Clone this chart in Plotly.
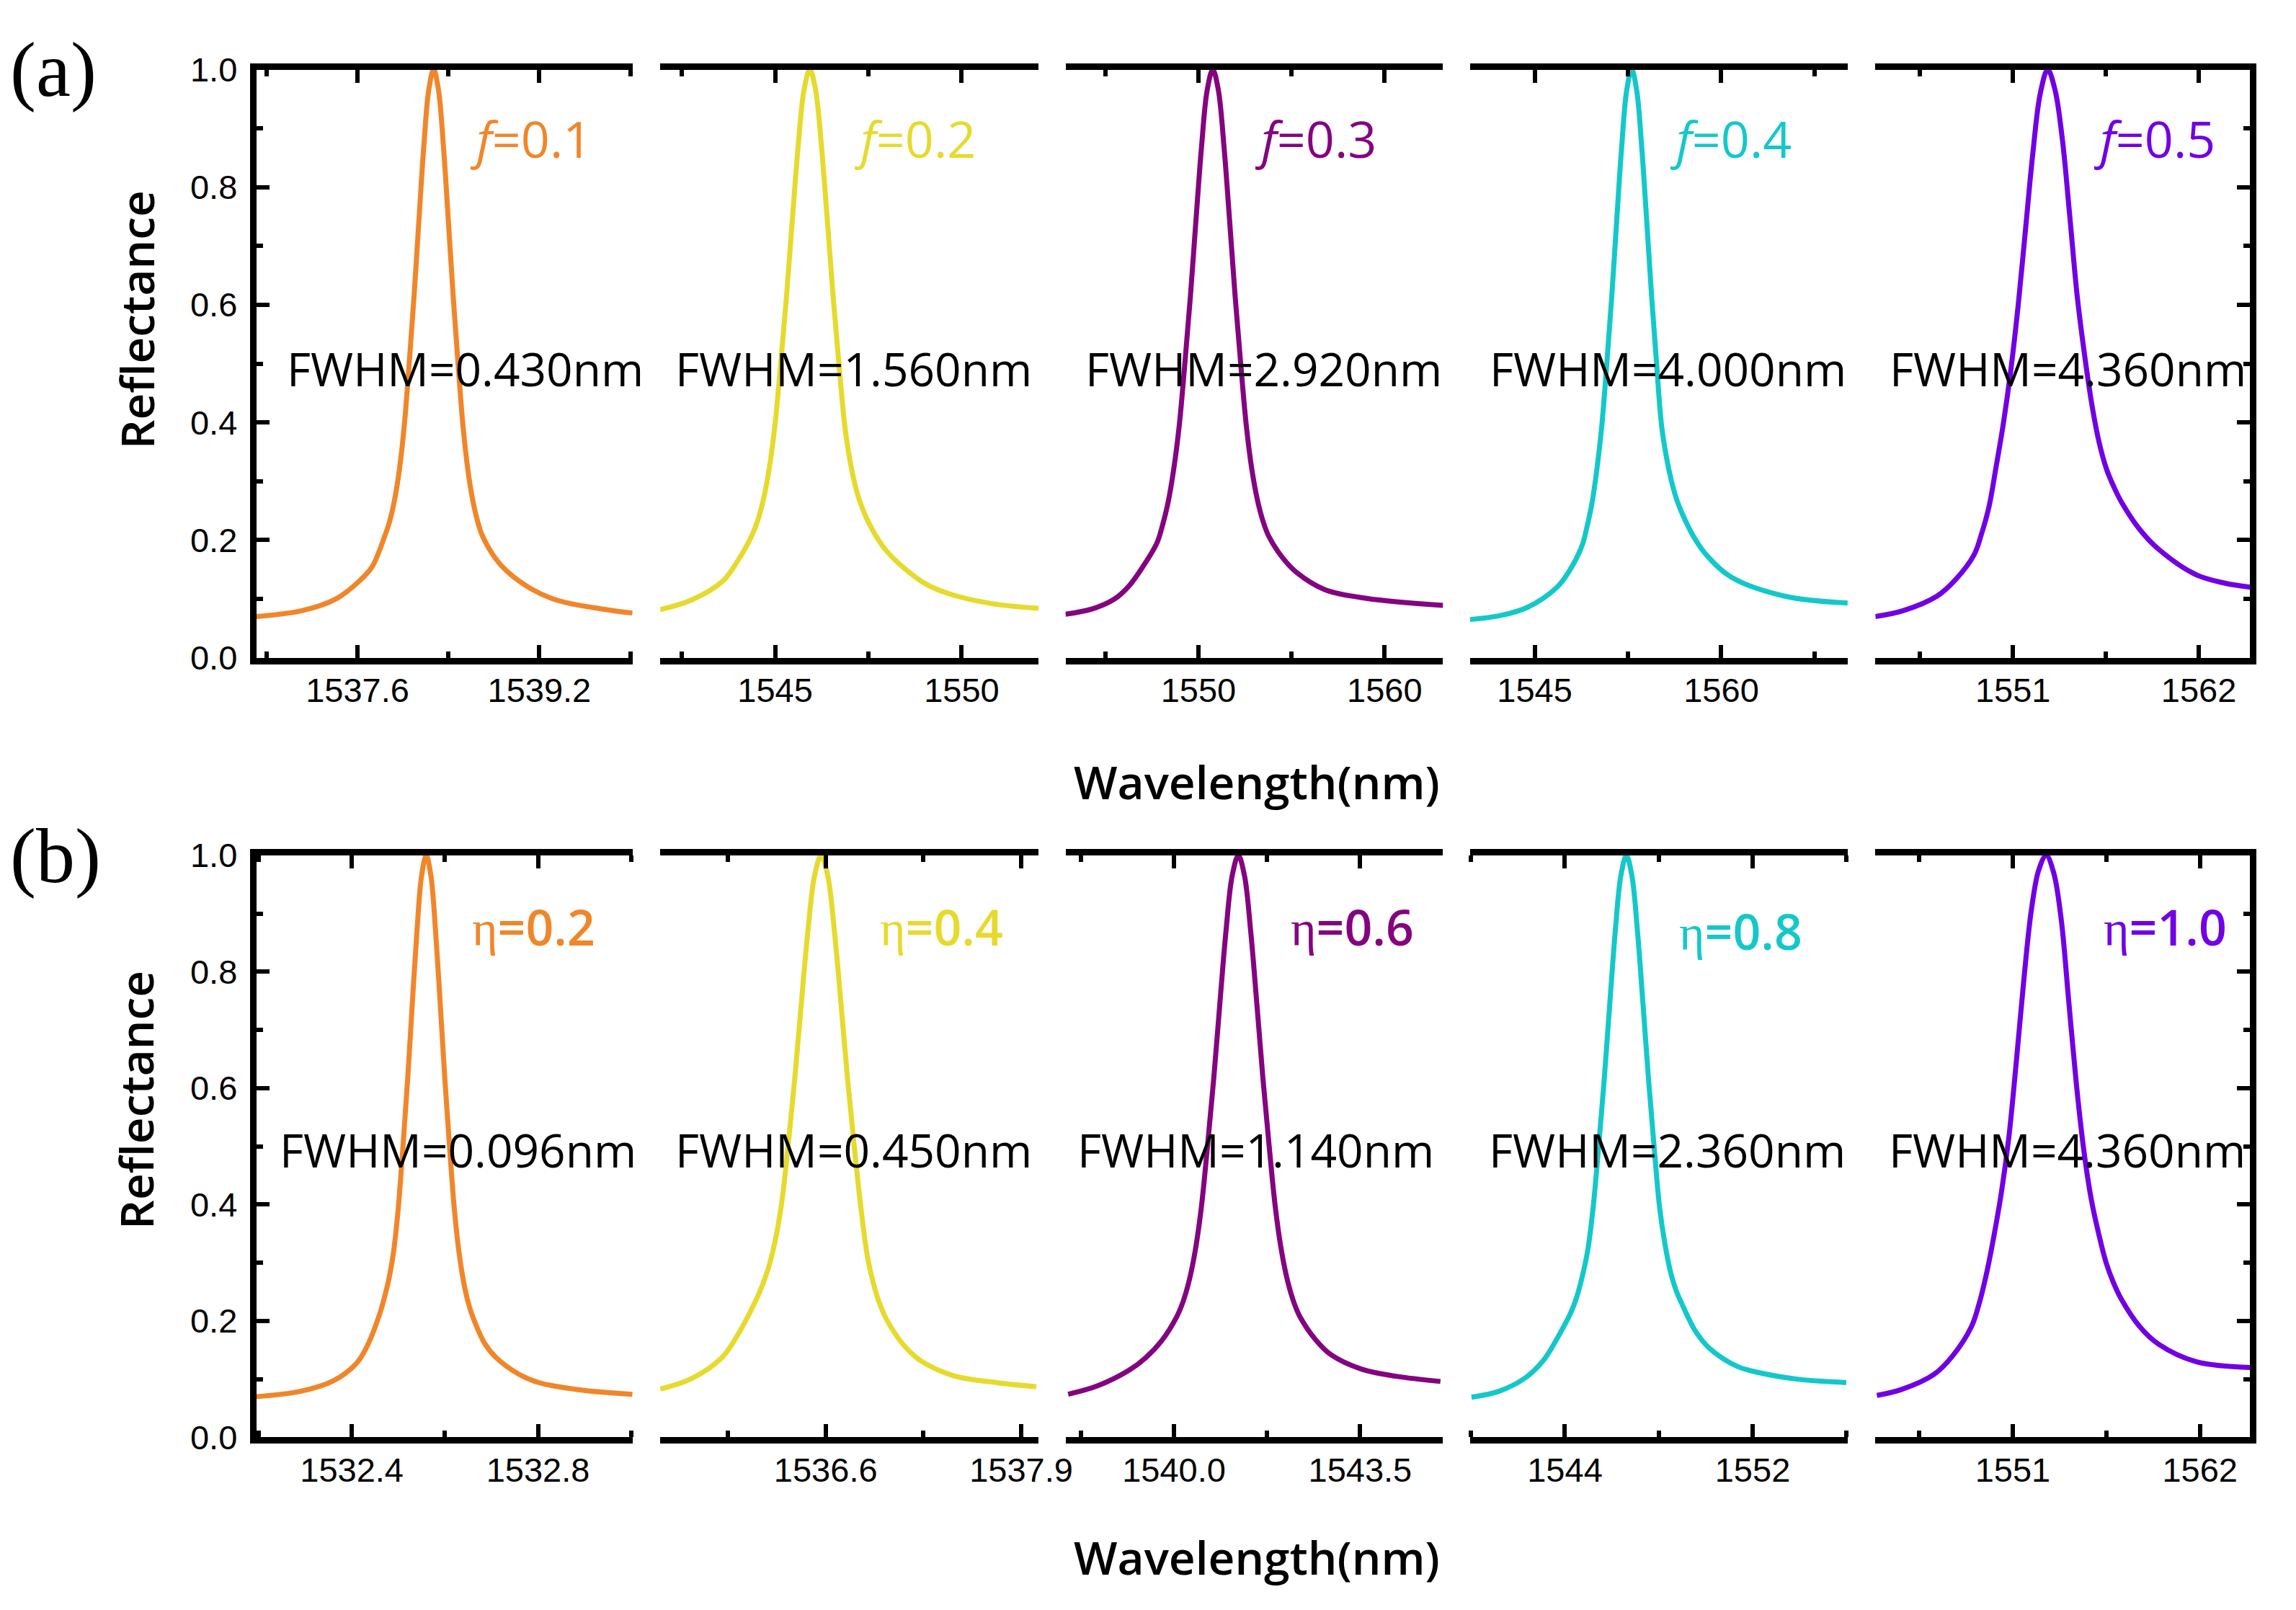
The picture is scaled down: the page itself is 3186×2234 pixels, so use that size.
import plotly.graph_objects as go

# ---- data (wavelength in nm, reflectance) ----
# (a) filling factor f
wl_f01 = [1536.71, 1537.11, 1537.41, 1537.625, 1537.73,
          1537.840, 1537.883, 1537.926, 1537.969, 1538.012, 1538.055, 1538.098, 1538.141, 1538.184, 1538.227, 1538.270,
          1538.313, 1538.356, 1538.399, 1538.442, 1538.485, 1538.528, 1538.571, 1538.614, 1538.657, 1538.700,
          1538.81, 1538.915, 1539.13, 1539.37, 1539.75, 1540.02]
r_f01 = [0.070, 0.080, 0.100, 0.132, 0.155,
         0.207, 0.232, 0.268, 0.32, 0.395, 0.50, 0.615, 0.745, 0.87, 0.965, 1.0,
         0.965, 0.87, 0.745, 0.615, 0.50, 0.395, 0.32, 0.268, 0.232, 0.207,
         0.170, 0.147, 0.117, 0.097, 0.083, 0.076]

wl_f02 = [1541.92, 1542.75, 1543.59, 1543.98,
          1544.370, 1544.526, 1544.682, 1544.838, 1544.994, 1545.150, 1545.306, 1545.462, 1545.618, 1545.774, 1545.930,
          1546.086, 1546.242, 1546.398, 1546.554, 1546.710, 1546.866, 1547.022, 1547.178, 1547.334, 1547.490,
          1547.88, 1548.27, 1549.05, 1549.70, 1550.81, 1552.06]
r_f02 = [0.082, 0.098, 0.130, 0.163,
         0.207, 0.232, 0.268, 0.32, 0.395, 0.50, 0.615, 0.745, 0.87, 0.965, 1.0,
         0.965, 0.87, 0.745, 0.615, 0.50, 0.395, 0.33, 0.285, 0.255, 0.232,
         0.190, 0.163, 0.125, 0.108, 0.092, 0.084]

wl_f03 = [1542.86, 1544.30, 1545.50, 1546.27, 1547.02,
          1547.77, 1548.07, 1548.37, 1548.67, 1548.97, 1549.27, 1549.57, 1549.87, 1550.17, 1550.47, 1550.77,
          1551.07, 1551.37, 1551.67, 1551.97, 1552.27, 1552.57, 1552.87, 1553.17, 1553.47, 1553.77,
          1554.52, 1555.27, 1556.77, 1559.02, 1563.14]
r_f03 = [0.074, 0.083, 0.100, 0.122, 0.155,
         0.195, 0.225, 0.264, 0.32, 0.395, 0.50, 0.615, 0.745, 0.87, 0.965, 1.0,
         0.965, 0.87, 0.745, 0.615, 0.50, 0.395, 0.32, 0.268, 0.232, 0.207,
         0.170, 0.145, 0.116, 0.101, 0.089]

wl_f04 = [1539.81, 1542.30, 1544.45, 1546.80, 1547.80,
          1548.80, 1549.20, 1549.60, 1550.00, 1550.40, 1550.80, 1551.20, 1551.60, 1552.00, 1552.40, 1552.80,
          1553.20, 1553.60, 1554.00, 1554.40, 1554.80, 1555.20, 1555.60, 1556.00, 1556.40, 1556.80,
          1557.80, 1558.80, 1560.80, 1565.03, 1570.16]
r_f04 = [0.065, 0.072, 0.086, 0.120, 0.148,
         0.190, 0.222, 0.262, 0.32, 0.395, 0.50, 0.615, 0.745, 0.87, 0.965, 1.0,
         0.965, 0.87, 0.745, 0.615, 0.50, 0.395, 0.34, 0.30, 0.27, 0.248,
         0.205, 0.175, 0.137, 0.105, 0.093]

wl_f05 = [1542.86, 1544.50, 1546.52, 1547.61,
          1548.700, 1549.136, 1549.572, 1550.008, 1550.444, 1550.880, 1551.316, 1551.752, 1552.188, 1552.624, 1553.060,
          1553.496, 1553.932, 1554.368, 1554.804, 1555.240, 1555.676, 1556.112, 1556.548, 1556.984, 1557.420,
          1558.51, 1559.60, 1561.78, 1563.51, 1565.04]
r_f05 = [0.070, 0.080, 0.105, 0.133,
         0.175, 0.21, 0.255, 0.325, 0.40, 0.49, 0.60, 0.73, 0.86, 0.96, 1.0,
         0.965, 0.88, 0.75, 0.615, 0.515, 0.43, 0.365, 0.32, 0.29, 0.265,
         0.218, 0.185, 0.142, 0.127, 0.120]

# (b) eta
wl_e02 = [1532.195, 1532.289, 1532.36, 1532.41, 1532.435,
          1532.46, 1532.47, 1532.48, 1532.49, 1532.50, 1532.51, 1532.52, 1532.53, 1532.54, 1532.55, 1532.56,
          1532.57, 1532.58, 1532.59, 1532.60, 1532.61, 1532.62, 1532.63, 1532.64, 1532.65, 1532.66,
          1532.685, 1532.71, 1532.76, 1532.802, 1532.896, 1533.003]
r_e02 = [0.070, 0.079, 0.097, 0.127, 0.160,
         0.212, 0.24, 0.273, 0.32, 0.395, 0.50, 0.615, 0.745, 0.87, 0.965, 1.0,
         0.965, 0.87, 0.745, 0.615, 0.50, 0.395, 0.32, 0.268, 0.232, 0.207,
         0.162, 0.137, 0.108, 0.094, 0.081, 0.074]

wl_e04 = [1535.50, 1535.709, 1535.91, 1536.02,
          1536.130, 1536.174, 1536.218, 1536.262, 1536.306, 1536.350, 1536.394, 1536.438, 1536.482, 1536.526, 1536.570,
          1536.614, 1536.658, 1536.702, 1536.746, 1536.790, 1536.834, 1536.878, 1536.922, 1536.966, 1537.010,
          1537.12, 1537.23, 1537.45, 1537.736, 1538.00]
r_e04 = [0.083, 0.101, 0.137, 0.178,
         0.232, 0.258, 0.29, 0.335, 0.40, 0.50, 0.615, 0.745, 0.87, 0.965, 1.0,
         0.965, 0.87, 0.745, 0.615, 0.50, 0.395, 0.31, 0.26, 0.225, 0.20,
         0.158, 0.132, 0.106, 0.094, 0.087]

wl_e06 = [1538.01, 1538.55, 1539.15, 1539.47, 1539.76,
          1540.050, 1540.166, 1540.282, 1540.398, 1540.514, 1540.630, 1540.746, 1540.862, 1540.978, 1541.094, 1541.210,
          1541.326, 1541.442, 1541.558, 1541.674, 1541.790, 1541.906, 1542.022, 1542.138, 1542.254, 1542.370,
          1542.66, 1542.95, 1543.53, 1544.17, 1545.01]
r_e06 = [0.074, 0.088, 0.115, 0.137, 0.165,
         0.207, 0.232, 0.268, 0.32, 0.395, 0.50, 0.615, 0.745, 0.87, 0.965, 1.0,
         0.965, 0.87, 0.745, 0.615, 0.50, 0.395, 0.32, 0.268, 0.232, 0.207,
         0.168, 0.142, 0.117, 0.105, 0.096]

wl_e08 = [1540.02, 1541.18, 1542.34, 1543.08, 1543.67,
          1544.260, 1544.496, 1544.732, 1544.968, 1545.204, 1545.440, 1545.676, 1545.912, 1546.148, 1546.384, 1546.620,
          1546.856, 1547.092, 1547.328, 1547.564, 1547.800, 1548.036, 1548.272, 1548.508, 1548.744, 1548.980,
          1549.57, 1550.16, 1551.34, 1552.29, 1553.89, 1555.99]
r_e08 = [0.069, 0.079, 0.103, 0.132, 0.170,
         0.215, 0.24, 0.275, 0.32, 0.395, 0.50, 0.615, 0.745, 0.87, 0.965, 1.0,
         0.965, 0.87, 0.745, 0.615, 0.50, 0.395, 0.33, 0.283, 0.252, 0.23,
         0.182, 0.153, 0.122, 0.111, 0.100, 0.094]

wl_e10 = [1543.02, 1544.45, 1546.37, 1547.47,
          1548.57, 1549.01, 1549.45, 1549.89, 1550.33, 1550.77, 1551.21, 1551.65, 1552.09, 1552.53, 1552.97,
          1553.41, 1553.85, 1554.29, 1554.73, 1555.17, 1555.61, 1556.05, 1556.49, 1556.93, 1557.37,
          1558.47, 1559.57, 1561.77, 1564.95]
r_e10 = [0.072, 0.082, 0.108, 0.140,
         0.19, 0.228, 0.28, 0.345, 0.42, 0.515, 0.645, 0.785, 0.905, 0.975, 1.0,
         0.97, 0.89, 0.75, 0.61, 0.495, 0.41, 0.35, 0.30, 0.265, 0.238,
         0.190, 0.160, 0.130, 0.120]

f_labels = ["0.1", "0.2", "0.3", "0.4", "0.5"]
eta_labels = ["0.2", "0.4", "0.6", "0.8", "1.0"]
fwhm_a = ["0.430", "1.560", "2.920", "4.000", "4.360"]
fwhm_b = ["0.096", "0.450", "1.140", "2.360", "4.360"]

colors = ["#F0862A", "#E6DA2E", "#84047F", "#14C8CA", "#7100E4"]

# axis ranges and tick spacing per panel
xr_a = [(1536.71, 1540.02), (1541.92, 1552.06), (1542.86, 1563.14), (1539.81, 1570.16), (1542.86, 1565.04)]
xr_b = [(1532.195, 1533.003), (1535.50, 1538.015), (1537.96, 1545.06), (1539.96, 1556.05), (1542.93, 1564.95)]
tk_a = [(1537.6, 1.6, ".1f"), (1545, 5, "d"), (1550, 10, "d"), (1545, 15, "d"), (1551, 11, "d")]
tk_b = [(1532.4, 0.4, ".1f"), (1536.6, 1.3, ".1f"), (1540.0, 3.5, ".1f"), (1544, 8, "d"), (1551, 11, "d")]

curves_a = [(wl_f01, r_f01), (wl_f02, r_f02), (wl_f03, r_f03), (wl_f04, r_f04), (wl_f05, r_f05)]
curves_b = [(wl_e02, r_e02), (wl_e04, r_e04), (wl_e06, r_e06), (wl_e08, r_e08), (wl_e10, r_e10)]

W, H = 3186, 2234
OFF = 8  # page margin the browser adds around the plot div
cols_px = [(361, 891), (930, 1463), (1501, 2033), (2071, 2603), (2642, 3170)]
rows_px = [(71, 907), (1188, 2015)]

def px(x):
    return (x - OFF) / W

def py(y):
    return 1 - (y - OFF) / H

tick_font = dict(family="Liberation Sans Narrow, Liberation Sans, sans-serif", size=47, color="black")
fig = go.Figure()
layout = {}

for r, (curves, xr, tk) in enumerate([(curves_a, xr_a, tk_a), (curves_b, xr_b, tk_b)]):
    for c in range(5):
        i = r * 5 + c + 1
        sx = "" if i == 1 else str(i)
        wl, refl = curves[c]
        fig.add_trace(go.Scatter(x=wl, y=refl, mode="lines", xaxis="x" + sx, yaxis="y" + sx,
                                 line=dict(color=colors[c], width=7, shape="spline", smoothing=1.0),
                                 showlegend=False, hoverinfo="skip"))
        t0, dt, fmt = tk[c]
        layout["xaxis" + sx] = dict(
            domain=[px(cols_px[c][0]), px(cols_px[c][1])], anchor="y" + sx, range=list(xr[c]),
            showgrid=False, zeroline=False, showline=True, linecolor="black", linewidth=9, mirror="ticks",
            ticks="inside", ticklen=18, tickwidth=6, tickcolor="black", tick0=t0, dtick=dt, tickformat=fmt,
            tickfont=tick_font, ticklabelstandoff=-4,
            minor=dict(ticks="inside", ticklen=9, tickwidth=6, tickcolor="black", tick0=t0, dtick=dt / 2))
        ya = dict(domain=[py(rows_px[r][1]), py(rows_px[r][0])], anchor="x" + sx, range=[0, 1],
                  showgrid=False, zeroline=False)
        if c == 0:
            ya.update(showline=True, linecolor="black", linewidth=9, ticks="inside", ticklen=18, tickwidth=6,
                      tickcolor="black", dtick=0.2, tickformat=".1f", tickfont=tick_font, ticklabelstandoff=8,
                      minor=dict(ticks="inside", ticklen=9, tickwidth=6, tickcolor="black", dtick=0.1))
        elif c == 4:
            ya.update(side="right", showline=True, linecolor="black", linewidth=9, ticks="inside", ticklen=18,
                      tickwidth=6, tickcolor="black", dtick=0.2, showticklabels=False,
                      minor=dict(ticks="inside", ticklen=9, tickwidth=6, tickcolor="black", dtick=0.1))
        else:
            ya.update(showline=False, ticks="", showticklabels=False)
        layout["yaxis" + sx] = ya

ann = []
sans = "Open Sans, Noto Sans, sans-serif"
serif = "Liberation Serif, Times New Roman, serif"

# panel letters (left-anchored so they stay inside the page)
for txt, y in [("(a)", 71), ("(b)", 1189)]:
    ann.append(dict(text=txt, x=px(12), y=py(y), xanchor="left",
                    font=dict(family=serif, size=108, color="black")))

# axis titles
for y in [427, 1536]:
    ann.append(dict(text="Reflectance", x=px(192), y=py(y), textangle=-90,
                    font=dict(family=sans, size=64, color="black", weight=600)))
for y in [1083, 2185]:
    ann.append(dict(text="Wavelength(nm)", x=px(1771), y=py(y),
                    font=dict(family=sans, size=64, color="black", weight=600)))

# FWHM labels
fwhm_x_a = [655, 1202, 1780, 2350, 2913]
fwhm_x_b = [645, 1203, 1769, 2349, 2912]
for c in range(5):
    ann.append(dict(text="FWHM=" + fwhm_a[c] + "nm", x=px(fwhm_x_a[c]), y=py(496),
                    font=dict(family=sans, size=64, color="black")))
    ann.append(dict(text="FWHM=" + fwhm_b[c] + "nm", x=px(fwhm_x_b[c]), y=py(1606),
                    font=dict(family=sans, size=64, color="black")))

# parameter labels
f_x = [748, 1289, 1854, 2439, 3036]
eta_x = [752, 1326, 1905, 2452, 3050]
eta_y = [1289, 1289, 1289, 1295, 1289]
for c in range(5):
    ann.append(dict(text="<i>f</i>=" + f_labels[c], x=px(f_x[c]), y=py(169),
                    font=dict(family=sans, size=70, color=colors[c])))
    ann.append(dict(text="<span style='font-family:Liberation Serif;font-weight:normal'>η</span>=" + eta_labels[c],
                    x=px(eta_x[c]), y=py(eta_y[c]),
                    font=dict(family=sans, size=68, color=colors[c], weight=600)))

for a in ann:
    a.setdefault("xanchor", "center")
    a.update(xref="paper", yref="paper", showarrow=False, yanchor="middle")

fig.update_layout(width=W, height=H, margin=dict(l=0, r=0, t=0, b=0),
                  paper_bgcolor="white", plot_bgcolor="white", annotations=ann, **layout)

fig.write_html("out.html")
